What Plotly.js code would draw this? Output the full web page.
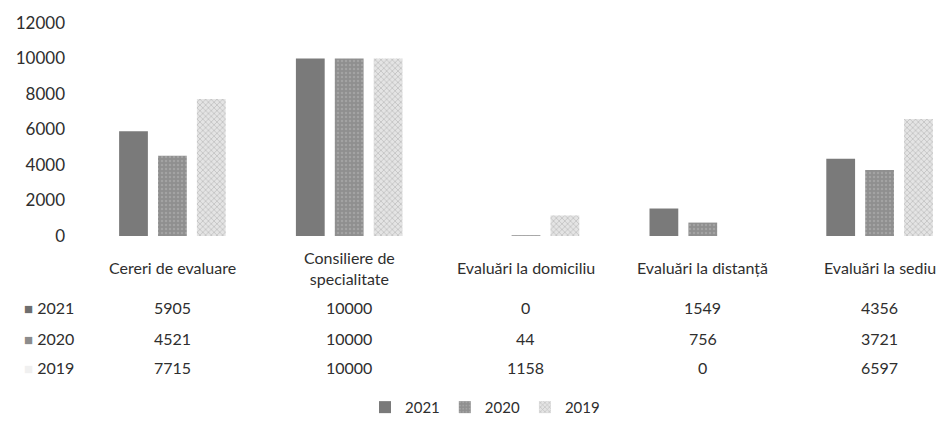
<!DOCTYPE html>
<html>
<head>
<meta charset="utf-8">
<script src="https://cdn.plot.ly/plotly-3.0.1.min.js"></script>
<style>html,body{margin:0;padding:0;background:#fff;}#chart{width:945px;height:424px;}</style>
</head>
<body>
<div id="chart"></div>
<script>
const categories = ["Cereri de evaluare", "Consiliere de<br>specialitate", "Evaluări la domiciliu", "Evaluări la distanță", "Evaluări la sediu"];
const seriesNames = ["2021", "2020", "2019"];
const values2021 = [5905, 10000, 0, 1549, 4356];
const values2020 = [4521, 10000, 44, 756, 3721];
const values2019 = [7715, 10000, 1158, 0, 6597];
const yTicks = [0, 2000, 4000, 6000, 8000, 10000, 12000];

const allValues = [values2021, values2020, values2019];
const colors = ["#7a7a7a", "#8f8f8f", "#e4e4e4"];
const fg = ["#6c6c6c", "#a3a3a3", "#b8b8b8"];
const shapes = ["", ".", "x"];

const H = 424, W = 945, L = 84, T = 23, B = 186;
const plotH = H - T - B;
const plotW = W - L;
const py = p => (H - B - p) / plotH;
const px = p => (p - L) / plotW;

const idx = categories.map((c, i) => i);
const traces = allValues.map((vals, s) => ({
  type: "bar",
  name: seriesNames[s],
  x: idx,
  y: vals,
  marker: {
    color: colors[s],
    pattern: shapes[s] ? {shape: shapes[s], fgcolor: fg[s], bgcolor: colors[s], size: 4, solidity: 0.3} : undefined,
    line: {width: 0}
  },
  hoverinfo: "skip"
}));

const font = "Lato, 'Open Sans', sans-serif";
const txt = "#2e2e2e";
const annotations = [];
categories.forEach((c, i) => {
  annotations.push({xref: "x", yref: "paper", x: i, y: py(270), text: c, showarrow: false,
    xanchor: "center", yanchor: "middle", font: {family: font, size: 16, color: txt}});
});
const rowY = [310, 341, 371];
const markColors = ["#6e6e6e", "#8c8c8c", "#f0f0f0"];
allValues.forEach((vals, s) => {
  annotations.push({xref: "paper", yref: "paper", x: px(22), y: py(rowY[s]),
    text: "<span style='font-size:15px;color:" + markColors[s] + "'>■</span> " + seriesNames[s],
    showarrow: false, xanchor: "left", yanchor: "middle", font: {family: font, size: 16, color: txt}});
  vals.forEach((v, i) => {
    annotations.push({xref: "x", yref: "paper", x: i, y: py(rowY[s]), text: String(v), showarrow: false,
      xanchor: "center", yanchor: "middle", font: {family: font, size: 16, color: txt}});
  });
});

const layout = {
  width: W, height: H,
  margin: {l: L, r: 0, t: T, b: B},
  paper_bgcolor: "#fff", plot_bgcolor: "#fff",
  barmode: "group", bargap: 0.34, bargroupgap: 0.26,
  xaxis: {type: "linear", range: [-0.5, 4.37], showticklabels: false, showgrid: false, zeroline: false, showline: false, ticks: ""},
  yaxis: {range: [0, 12000], tickvals: yTicks, ticktext: yTicks.map(String), showgrid: false, zeroline: false,
    showline: false, ticks: "", ticklabelstandoff: 18, tickfont: {family: font, size: 17, color: txt}},
  showlegend: true,
  legend: {orientation: "h", x: px(485), xanchor: "center", y: py(411), yanchor: "middle",
    font: {family: font, size: 15, color: txt}, itemwidth: 30, traceorder: "normal"},
  annotations: annotations
};

Plotly.newPlot("chart", traces, layout, {displayModeBar: false, staticPlot: true});
</script>
</body>
</html>
